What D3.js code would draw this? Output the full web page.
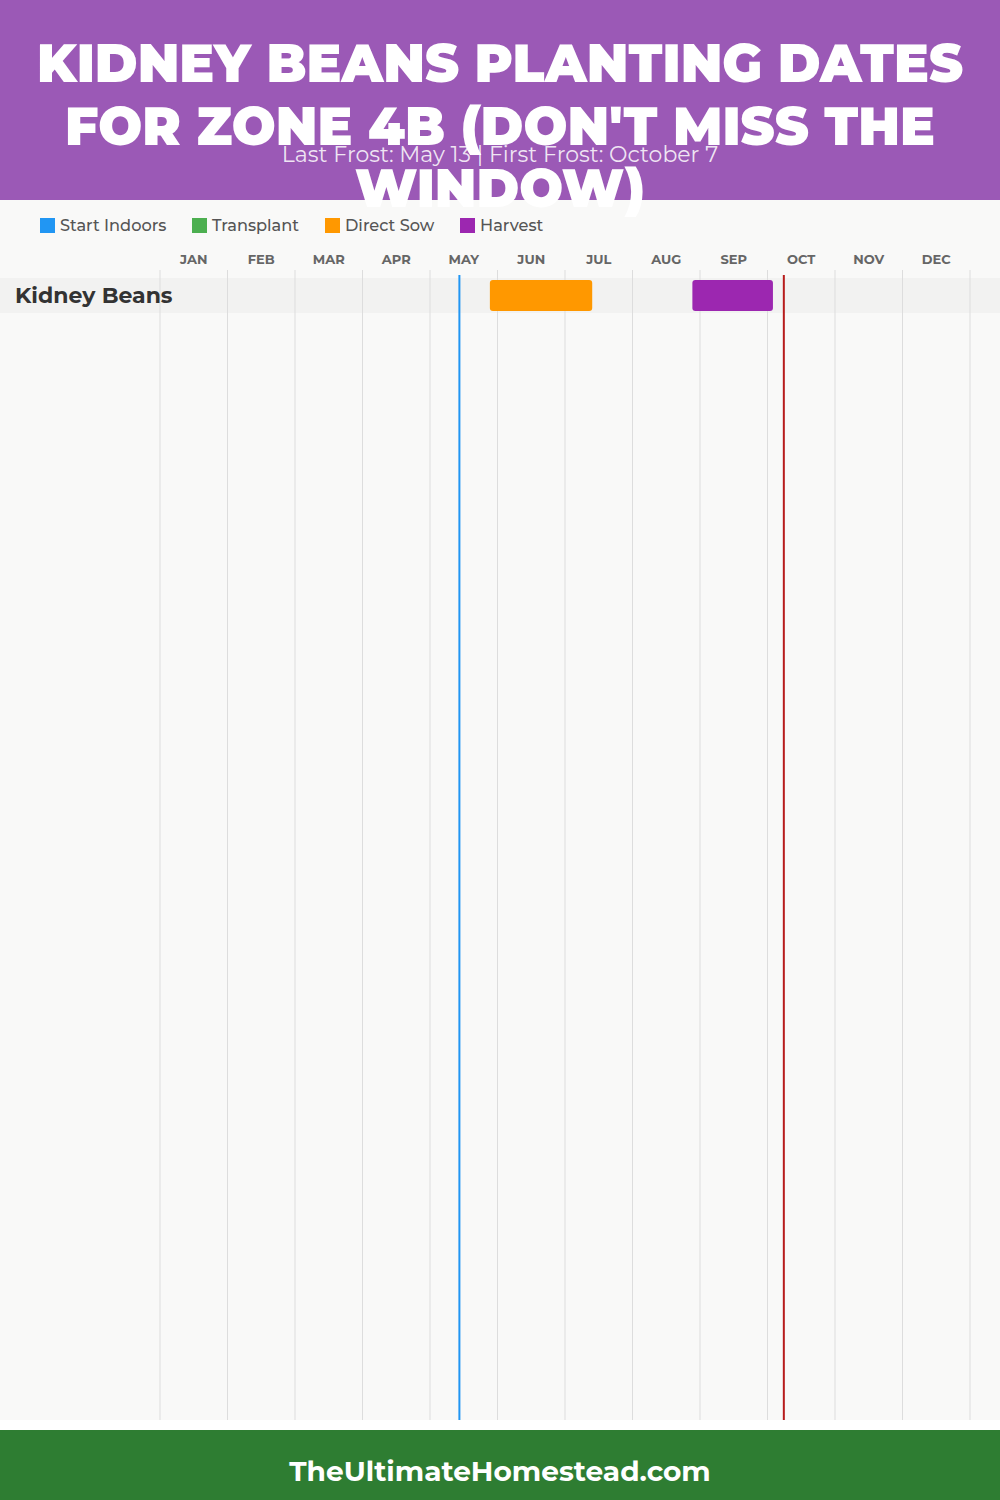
<!DOCTYPE html>
<html>
<head>
<meta charset="utf-8">
<script src="https://cdn.jsdelivr.net/npm/d3@7"></script>
<style>
  html, body { margin: 0; padding: 0; background: #ffffff; }
  svg { display: block; }
</style>
</head>
<body>
<svg id="chart" width="1000" height="1500"></svg>
<script>
// ---------- data ----------
const titleLines = ["KIDNEY BEANS PLANTING DATES", "FOR ZONE 4B (DON'T MISS THE", "WINDOW)"];
const subtitle = "Last Frost: May 13 | First Frost: October 7";
const footerText = "TheUltimateHomestead.com";
const months = ["JAN","FEB","MAR","APR","MAY","JUN","JUL","AUG","SEP","OCT","NOV","DEC"];
const daysInMonth = [31,28,31,30,31,30,31,31,30,31,30,31];
const legendLabels = ["Start Indoors","Transplant","Direct Sow","Harvest"];
const crops = ["Kidney Beans"];
// periods: [crop, type, startMonth, startDay, endMonth, endDay] (months 1-12)
const periodCrop  = ["Kidney Beans", "Kidney Beans"];
const periodType  = ["Direct Sow", "Harvest"];
const periodStart = [[5, 27], [8, 27]];
const periodEnd   = [[7, 12], [10, 2]];
const frostNames = ["Last Frost", "First Frost"];
const frostDates = [[5, 13], [10, 7]];

// ---------- styles ----------
const typeColor = {"Start Indoors":"#2196F3","Transplant":"#4CAF50","Direct Sow":"#FF9800","Harvest":"#9C27B0"};
const frostColor = {"Last Frost":"#2196F3","First Frost":"#B71C1C"};
const FONT = "Montserrat, 'Open Sans', 'Noto Sans', sans-serif";

const svg = d3.select("#chart");

// background
svg.append("rect").attr("x",0).attr("y",200).attr("width",1000).attr("height",1220).attr("fill","#f9f9f8");

// header
svg.append("rect").attr("x",0).attr("y",0).attr("width",1000).attr("height",200).attr("fill","#9B59B6");

// scales
const x = d3.scaleLinear().domain([0,12]).range([160,970]);
const pos = ([m,d]) => (m-1) + (d+0.5)/daysInMonth[m-1];
const y = d3.scaleBand().domain(crops).range([278, 278 + 35*crops.length]).paddingInner(0);

// row bands
svg.selectAll(".band").data(crops).join("rect")
  .attr("x",0).attr("width",1000)
  .attr("y", d=>y(d)).attr("height", y.bandwidth())
  .attr("fill","#f2f2f1");

// grid lines
svg.selectAll(".grid").data(d3.range(13)).join("line")
  .attr("x1", d=>x(d)).attr("x2", d=>x(d))
  .attr("y1", 270).attr("y2", 1420)
  .attr("stroke","#dddddd").attr("stroke-width",1);

// month labels
svg.selectAll(".mlab").data(months).join("text")
  .attr("x",(d,i)=>x(i+0.5)).attr("y",264)
  .attr("text-anchor","middle")
  .attr("font-family",FONT).attr("font-weight",700).attr("font-size",13)
  .attr("fill","#666").text(d=>d);

// crop labels
svg.selectAll(".clab").data(crops).join("text")
  .attr("x",15).attr("y",d=>y(d)+y.bandwidth()/2+7.5)
  .attr("font-family",FONT).attr("font-weight",700).attr("font-size",22)
  .attr("fill","#333").text(d=>d);

// bars
const periods = periodCrop.map((c,i)=>({crop:c,type:periodType[i],s:pos(periodStart[i]),e:pos(periodEnd[i])}));
svg.selectAll(".bar").data(periods).join("rect")
  .attr("x",d=>x(d.s)).attr("width",d=>x(d.e)-x(d.s))
  .attr("y",d=>y(d.crop)+2).attr("height",y.bandwidth()-4)
  .attr("rx",3).attr("fill",d=>typeColor[d.type]);

// frost lines
svg.selectAll(".frost").data(frostNames).join("line")
  .attr("x1",(d,i)=>x(pos(frostDates[i]))).attr("x2",(d,i)=>x(pos(frostDates[i])))
  .attr("y1",275).attr("y2",1420)
  .attr("stroke",d=>frostColor[d]).attr("stroke-width",2);

// legend
const legendX = [40, 192, 325, 460];
const lg = svg.selectAll(".lg").data(legendLabels).join("g")
  .attr("transform",(d,i)=>`translate(${legendX[i]},218)`);
lg.append("rect").attr("width",15).attr("height",15).attr("fill",d=>typeColor[d]);
lg.append("text").attr("x",20).attr("y",13)
  .attr("font-family",FONT).attr("font-weight",500).attr("font-size",16.2)
  .attr("fill","#555").text(d=>d);

// subtitle
svg.append("text").attr("x",500).attr("y",161.5).attr("text-anchor","middle")
  .attr("font-family",FONT).attr("font-size",22).attr("fill","rgba(255,255,255,0.85)")
  .text(subtitle);

// title
const targetW = [926, 870, 290];
svg.selectAll(".title").data(titleLines).join("text")
  .attr("x",500).attr("y",(d,i)=>82+i*62.5)
  .attr("text-anchor","middle")
  .attr("font-family",FONT).attr("font-weight",900).attr("font-size",54)
  .attr("fill","#ffffff")
  .text(d=>d)
  .each(function(d,i){
    const w = this.getComputedTextLength();
    if (Math.abs(w-targetW[i]) > 4) {
      d3.select(this).attr("textLength",targetW[i]).attr("lengthAdjust","spacingAndGlyphs");
    }
  });

// footer
svg.append("rect").attr("x",0).attr("y",1430).attr("width",1000).attr("height",70).attr("fill","#2E7D32");
svg.append("text").attr("x",500).attr("y",1481).attr("text-anchor","middle")
  .attr("font-family",FONT).attr("font-weight",700).attr("font-size",28)
  .attr("fill","#ffffff").text(footerText);
</script>
</body>
</html>
